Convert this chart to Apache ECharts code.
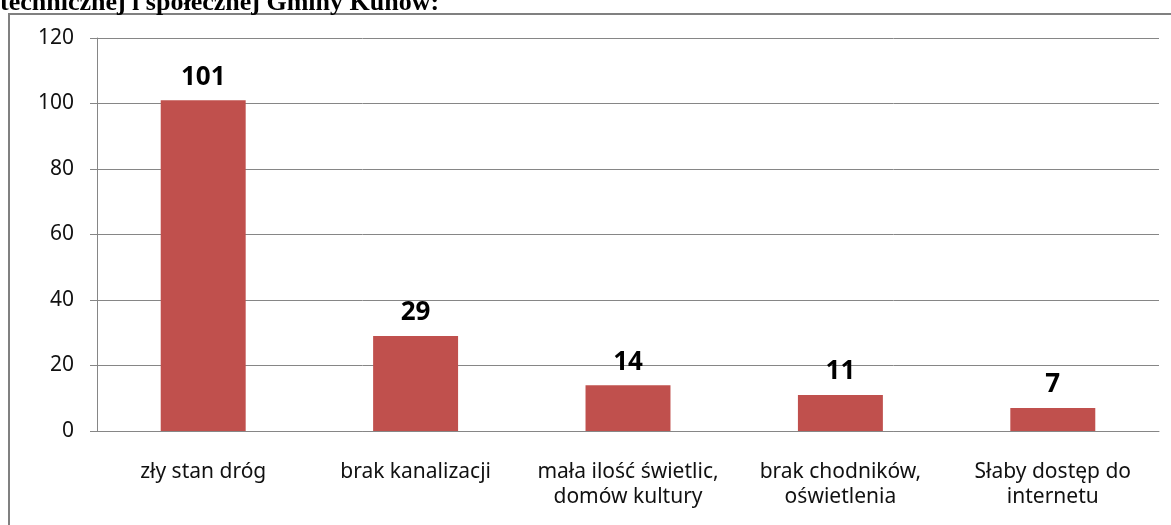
<!DOCTYPE html>
<html>
<head>
<meta charset="utf-8">
<script src="https://cdn.jsdelivr.net/npm/echarts@6/dist/echarts.min.js"></script>
<style>
  html, body { margin: 0; padding: 0; background: #fff; }
  #main { width: 1171px; height: 525px; }
</style>
</head>
<body>
<div id="main"></div>
<script>
var kategorie = ['zły stan dróg', 'brak kanalizacji', 'mała ilość świetlic,\ndomów kultury', 'brak chodników,\noświetlenia', 'Słaby dostęp do\ninternetu']
var wartosci = [101, 29, 14, 11, 7]
var tytul = 'technicznej i społecznej Gminy Kunów:'

var chart = echarts.init(document.getElementById('main'))
var option = {
  animation: false,
  graphic: [
    // ramka wykresu (ucięta z prawej i z dołu)
    {
      type: 'rect',
      shape: { x: 9, y: 14, width: 1300, height: 700 },
      style: { fill: null, stroke: '#808080', lineWidth: 2 }
    },
    {
      type: 'text',
      x: 0,
      y: -10,
      style: {
        text: tytul,
        font: 'bold 26px "Liberation Serif"',
        fill: '#000'
      }
    }
  ],
  grid: { left: 97, right: 12, top: 38, bottom: 94 },
  xAxis: {
    type: 'category',
    data: kategorie,
    axisLine: { lineStyle: { color: '#868686' } },
    axisTick: { length: 6, lineStyle: { color: '#868686' } },
    axisLabel: {
      interval: 0,
      color: '#111',
      fontFamily: 'Noto Sans',
      fontSize: 21,
      lineHeight: 25,
      margin: 29
    }
  },
  yAxis: {
    type: 'value',
    min: 0,
    max: 120,
    interval: 20,
    axisLine: { show: true, lineStyle: { color: '#868686' } },
    axisTick: { show: true, length: 7, lineStyle: { color: '#868686' } },
    splitLine: { lineStyle: { color: '#868686' } },
    axisLabel: {
      color: '#111',
      fontFamily: 'Noto Sans',
      fontSize: 21,
      margin: 23
    }
  },
  series: [{
    type: 'bar',
    data: wartosci,
    barWidth: '40%',
    itemStyle: { color: '#C0504D' },
    label: {
      show: true,
      position: 'top',
      distance: 10,
      color: '#000',
      fontFamily: 'Noto Sans',
      fontWeight: 'bold',
      fontSize: 26
    }
  }]
}
chart.setOption(option)
</script>
</body>
</html>
